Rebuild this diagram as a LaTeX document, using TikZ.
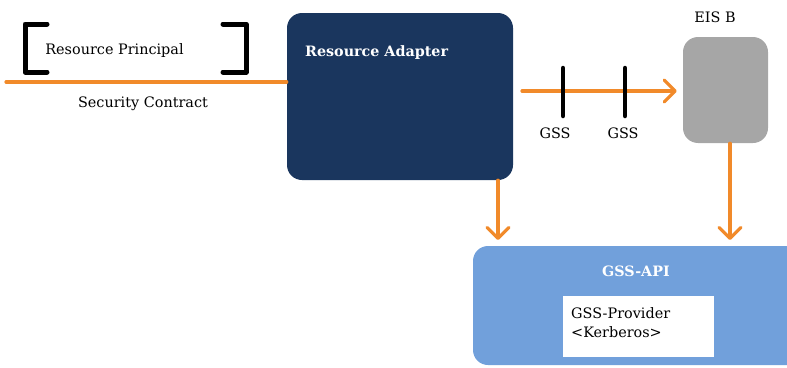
\documentclass[tikz,border=0pt]{standalone}
\usepackage{fontspec}
\setmainfont{DejaVu Serif}
\usetikzlibrary{arrows.meta}
\definecolor{orng}{HTML}{F18A2A}
\definecolor{navy}{HTML}{1A365E}
\definecolor{greybox}{HTML}{A6A6A6}
\definecolor{bluebox}{HTML}{71A0DB}
\begin{document}
\begin{tikzpicture}[x=1pt,y=-1pt,
  conn/.style={draw=orng,line width=3.2pt,line cap=round,-{Straight Barb[length=11pt,width=22pt,line cap=round,line join=round]}},
  plainline/.style={draw=orng,line width=3.2pt,line cap=round},
  bracket/.style={draw=black,line width=5pt,line cap=round,line join=round},
  bar/.style={draw=black,line width=4.5pt,line cap=round},
  lbl/.style={font=\fontsize{14.4}{19}\selectfont,text=black,inner sep=0pt},
  boxtitle/.style={font=\bfseries\fontsize{14.3}{17}\selectfont,text=white,inner sep=0pt}]
\useasboundingbox (0,0) rectangle (787,367);
% boxes
\node[draw=none,fill=navy,rounded corners=15pt,minimum width=226pt,minimum height=167pt,inner sep=0pt] (ra) at (400,96.5) {};
\node[boxtitle,anchor=west] (ratxt) at (305,52.5) {Resource Adapter};
\node[fill=greybox,rounded corners=15pt,minimum width=85pt,minimum height=106pt,inner sep=0pt] (eis) at (725.5,90) {};
\node[lbl] (eistxt) at (715,17.5) {EIS B};
\node[fill=bluebox,rounded corners=15pt,minimum width=330pt,minimum height=119pt,inner sep=0pt] (api) at (638,305.5) {};
\node[boxtitle] (apitxt) at (636,271) {GSS-API};
\node[fill=white,minimum width=151pt,minimum height=61pt,inner sep=0pt] (prov) at (638.5,326.5) {};
\node[lbl,align=left,anchor=north west] (provtxt) at (571,307) {GSS-Provider\\\textless Kerberos\textgreater};
% principal
\node[lbl] (rp) at (114.5,50.5) {Resource Principal};
\draw[bracket] (47,24) -- (25,24) -- (25,72) -- (47,72);
\draw[bracket] (223,24) -- (246,24) -- (246,72) -- (223,72);
\coordinate (scl) at (6,82);
\draw[plainline] (scl) -- (ra.west |- scl);
\node[lbl] (sc) at (143,103.5) {Security Contract};
% GSS arrow
\coordinate (gssstart) at (522,91);
\coordinate (gssend) at ([xshift=-6pt]eis.west |- gssstart);
\draw[conn] (gssstart) -- (gssend);
\draw[bar] (563,68) -- (563,116);
\draw[bar] (625,68) -- (625,116);
\node[lbl] (g1) at (555,133) {GSS};
\node[lbl] (g2) at (623,133) {GSS};
% down arrows
\draw[conn] (ra.south -| 498,0) -- (498,240);
\draw[conn] (eis.south -| 730,0) -- (730,240);
\end{tikzpicture}
\end{document}
